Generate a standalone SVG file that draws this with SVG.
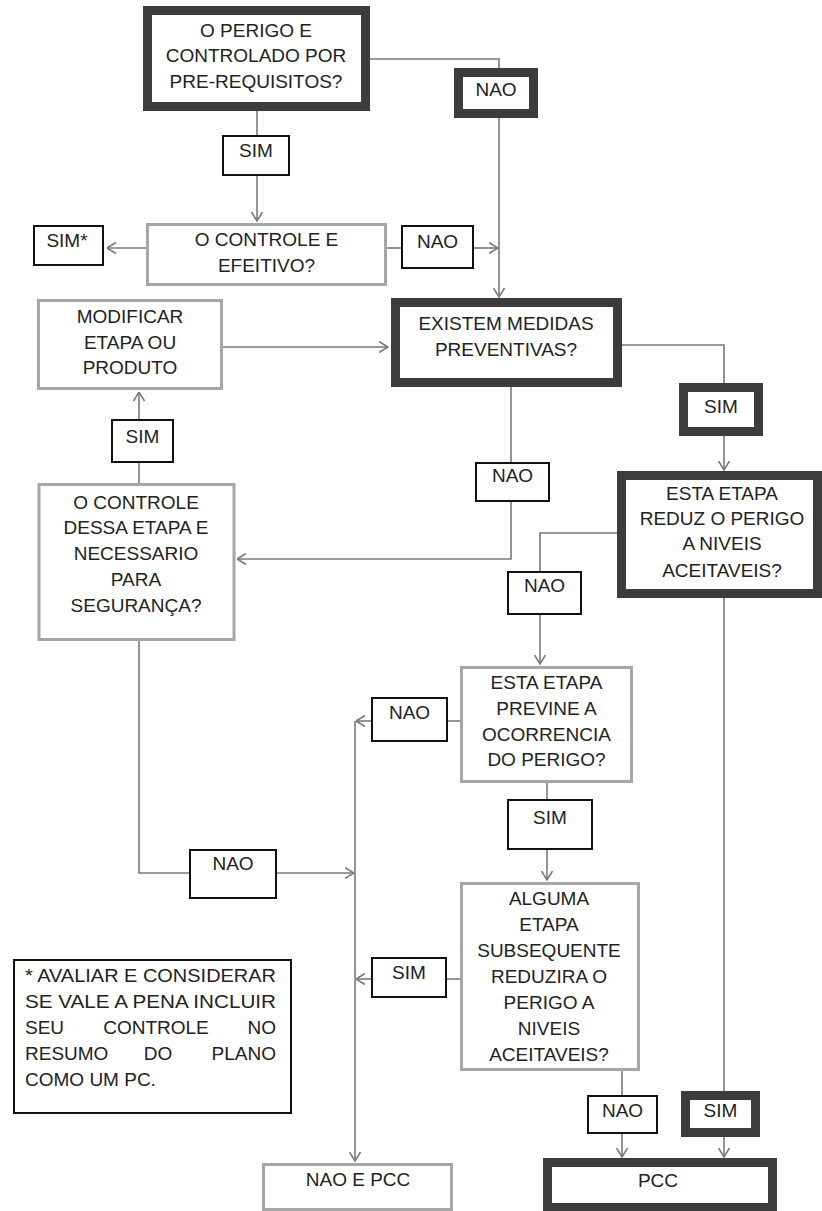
<svg xmlns="http://www.w3.org/2000/svg" width="822" height="1211" viewBox="0 0 822 1211">
<style>
.thick{fill:#fff;stroke:#3c3c3c;stroke-width:9}
.gray{fill:#fff;stroke:#a6a6a6;stroke-width:3}
.lbl{fill:#fff;stroke:#111;stroke-width:2}
.c{fill:none;stroke:#7a7a7a;stroke-width:1.6}
text{font-family:"Liberation Sans",Arial,sans-serif;font-size:19px;fill:#222;text-anchor:middle}
.fn{font-size:19px;text-anchor:start}
</style>
<defs>
<marker id="ah" viewBox="0 0 10 12" refX="9.5" refY="6" markerWidth="10" markerHeight="12" markerUnits="userSpaceOnUse" orient="auto">
<path d="M0.5,0.5 L9.5,6 L0.5,11.5" fill="none" stroke="#7a7a7a" stroke-width="1.6"/>
</marker>
</defs>
<rect width="822" height="1211" fill="#fff"/>
<g id="connectors">
<path class="c" d="M370,59 H499 V68"/>
<path class="c" d="M499,118 V297" marker-end="url(#ah)"/>
<path class="c" d="M257,111 V135"/>
<path class="c" d="M257,176 V221" marker-end="url(#ah)"/>
<path class="c" d="M146,248 H107" marker-end="url(#ah)"/>
<path class="c" d="M387,248 H401"/>
<path class="c" d="M474,248 H498" marker-end="url(#ah)"/>
<path class="c" d="M223,347 H388" marker-end="url(#ah)"/>
<path class="c" d="M622,345 H724 V383"/>
<path class="c" d="M724,436 V470" marker-end="url(#ah)"/>
<path class="c" d="M511,387 V462"/>
<path class="c" d="M511,502 V559 H237" marker-end="url(#ah)"/>
<path class="c" d="M139,483 V463"/>
<path class="c" d="M139,419 V392" marker-end="url(#ah)"/>
<path class="c" d="M617,533 H540 V571"/>
<path class="c" d="M540,615 V664" marker-end="url(#ah)"/>
<path class="c" d="M461,721 H448"/>
<path class="c" d="M371,721 H356" marker-end="url(#ah)"/>
<path class="c" d="M355,721 V1161" marker-end="url(#ah)"/>
<path class="c" d="M139,641 V873 H189"/>
<path class="c" d="M277,873 H354" marker-end="url(#ah)"/>
<path class="c" d="M547,783 V799"/>
<path class="c" d="M547,850 V880" marker-end="url(#ah)"/>
<path class="c" d="M460,979 H447"/>
<path class="c" d="M371,979 H356" marker-end="url(#ah)"/>
<path class="c" d="M622,1071 V1095"/>
<path class="c" d="M622,1134 V1157" marker-end="url(#ah)"/>
<path class="c" d="M724,598 V1091"/>
<path class="c" d="M724,1137 V1157" marker-end="url(#ah)"/>
</g>
<g id="n-perigo"><rect class="thick" x="147.5" y="10.5" width="218" height="96"/><text x="256" y="37">O PERIGO E</text><text x="256" y="62">CONTROLADO POR</text><text x="256" y="88">PRE-REQUISITOS?</text></g>
<g id="n-nao1"><rect class="thick" x="458.5" y="72.5" width="75" height="41"/><text x="496" y="96">NAO</text></g>
<g id="n-sim1"><rect class="lbl" x="223" y="136" width="66" height="39"/><text x="256" y="157">SIM</text></g>
<g id="n-controle"><rect class="gray" x="147.5" y="224.5" width="238" height="60"/><text x="266.5" y="246">O CONTROLE E</text><text x="266.5" y="272">EFEITIVO?</text></g>
<g id="n-simstar"><rect class="lbl" x="34" y="226" width="69" height="39"/><text x="67" y="247">SIM*</text></g>
<g id="n-nao2"><rect class="lbl" x="402" y="226" width="71" height="42"/><text x="437.5" y="248">NAO</text></g>
<g id="n-modificar"><rect class="gray" x="38.5" y="300.5" width="183" height="88"/><text x="130" y="323">MODIFICAR</text><text x="130" y="349">ETAPA OU</text><text x="130" y="374">PRODUTO</text></g>
<g id="n-existem"><rect class="thick" x="395.5" y="302.5" width="222" height="80"/><text x="506" y="330">EXISTEM MEDIDAS</text><text x="506" y="356">PREVENTIVAS?</text></g>
<g id="n-sim2"><rect class="thick" x="683.5" y="387.5" width="75" height="44"/><text x="721" y="413">SIM</text></g>
<g id="n-nao3"><rect class="lbl" x="476" y="463" width="73" height="38"/><text x="512.5" y="482">NAO</text></g>
<g id="n-sim3"><rect class="lbl" x="112" y="420" width="61" height="42"/><text x="142.5" y="443">SIM</text></g>
<g id="n-dessa"><rect class="gray" x="39" y="484.5" width="195" height="155"/><text x="136" y="509">O CONTROLE</text><text x="136" y="534">DESSA ETAPA E</text><text x="136" y="560">NECESSARIO</text><text x="136" y="586">PARA</text><text x="136" y="612">SEGURANÇA?</text></g>
<g id="n-reduz"><rect class="thick" x="621.5" y="475.5" width="196" height="118"/><text x="722" y="500">ESTA ETAPA</text><text x="722" y="525">REDUZ O PERIGO</text><text x="722" y="550">A NIVEIS</text><text x="722" y="577">ACEITAVEIS?</text></g>
<g id="n-nao4"><rect class="lbl" x="508" y="572" width="73" height="42"/><text x="544.5" y="592">NAO</text></g>
<g id="n-previne"><rect class="gray" x="461.5" y="667.5" width="170" height="114"/><text x="546.5" y="689">ESTA ETAPA</text><text x="546.5" y="715">PREVINE A</text><text x="546.5" y="741">OCORRENCIA</text><text x="546.5" y="766">DO PERIGO?</text></g>
<g id="n-nao5"><rect class="lbl" x="372" y="698" width="75" height="43"/><text x="409.5" y="719">NAO</text></g>
<g id="n-sim4"><rect class="lbl" x="508" y="800" width="84" height="49"/><text x="550" y="824">SIM</text></g>
<g id="n-nao6"><rect class="lbl" x="190" y="850" width="86" height="48"/><text x="233" y="870">NAO</text></g>
<g id="n-alguma"><rect class="gray" x="461.5" y="883.5" width="177" height="186"/><text x="549" y="905">ALGUMA</text><text x="549" y="931">ETAPA</text><text x="549" y="957">SUBSEQUENTE</text><text x="549" y="983">REDUZIRA O</text><text x="549" y="1009">PERIGO A</text><text x="549" y="1035">NIVEIS</text><text x="549" y="1061">ACEITAVEIS?</text></g>
<g id="n-sim5"><rect class="lbl" x="372" y="958" width="74" height="39"/><text x="409" y="979">SIM</text></g>
<g id="n-nao7"><rect class="lbl" x="588" y="1096" width="69" height="37"/><text x="622.5" y="1117">NAO</text></g>
<g id="n-sim6"><rect class="thick" x="685.5" y="1095.5" width="70" height="37"/><text x="720.5" y="1117">SIM</text></g>
<g id="n-pcc"><rect class="thick" x="547.5" y="1162.5" width="225" height="45"/><text x="658" y="1187">PCC</text></g>
<g id="n-naopcc"><rect class="gray" x="263.5" y="1164.5" width="188" height="45"/><text x="358" y="1186">NAO E PCC</text></g>
<g id="n-nota"><rect class="lbl" x="14" y="960" width="277" height="153"/>
<text class="fn" x="25" y="982" textLength="251" lengthAdjust="spacingAndGlyphs">* AVALIAR E CONSIDERAR</text>
<text class="fn" x="25" y="1008" textLength="251" lengthAdjust="spacingAndGlyphs">SE VALE A PENA INCLUIR</text>
<text class="fn" x="25" y="1034">SEU</text><text class="fn" x="156" y="1034" style="text-anchor:middle">CONTROLE</text><text class="fn" x="276" y="1034" style="text-anchor:end">NO</text>
<text class="fn" x="25" y="1060">RESUMO</text><text class="fn" x="158" y="1060" style="text-anchor:middle">DO</text><text class="fn" x="276" y="1060" style="text-anchor:end">PLANO</text>
<text class="fn" x="25" y="1086">COMO UM PC.</text>
</g>
</svg>
